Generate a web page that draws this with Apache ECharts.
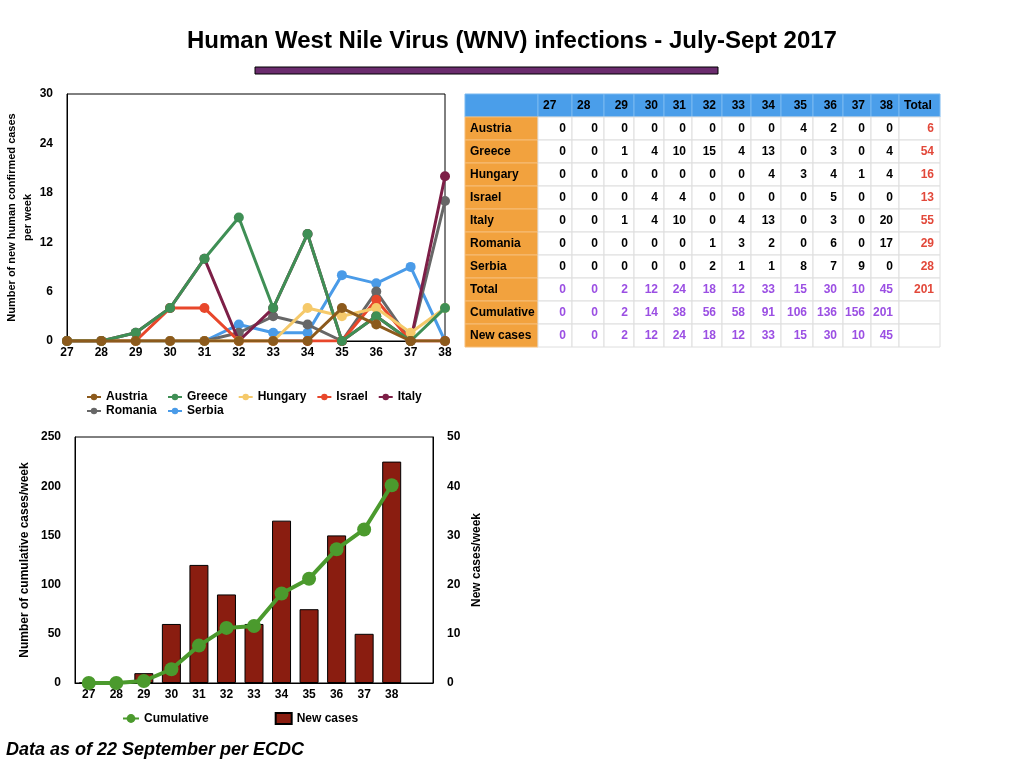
<!DOCTYPE html>
<html>
<head>
<meta charset="utf-8">
<title>Human West Nile Virus (WNV) infections - July-Sept 2017</title>
<script src="https://cdn.jsdelivr.net/npm/echarts@6/dist/echarts.min.js"></script>
<style>
  html, body { margin: 0; padding: 0; background: #fff; }
  #main { width: 1024px; height: 768px; }
</style>
</head>
<body>
<div id="main"></div>
<script>
// data
var weeks = ['27', '28', '29', '30', '31', '32', '33', '34', '35', '36', '37', '38'];
var countries = ['Austria', 'Greece', 'Hungary', 'Israel', 'Italy', 'Romania', 'Serbia'];
var austria = [0, 0, 0, 0, 0, 0, 0, 0, 4, 2, 0, 0];
var greece  = [0, 0, 1, 4, 10, 15, 4, 13, 0, 3, 0, 4];
var hungary = [0, 0, 0, 0, 0, 0, 0, 4, 3, 4, 1, 4];
var israel  = [0, 0, 0, 4, 4, 0, 0, 0, 0, 5, 0, 0];
var italy   = [0, 0, 1, 4, 10, 0, 4, 13, 0, 3, 0, 20];
var romania = [0, 0, 0, 0, 0, 1, 3, 2, 0, 6, 0, 17];
var serbia  = [0, 0, 0, 0, 0, 2, 1, 1, 8, 7, 9, 0];
var countryTotals = [6, 54, 16, 13, 55, 29, 28];
var weekTotals = [0, 0, 2, 12, 24, 18, 12, 33, 15, 30, 10, 45];
var grandTotal = 201;
var cumulative = [0, 0, 2, 14, 38, 56, 58, 91, 106, 136, 156, 201];
var newCases = [0, 0, 2, 12, 24, 18, 12, 33, 15, 30, 10, 45];

var countryData = [austria, greece, hungary, israel, italy, romania, serbia];
var countryColors = ['#8c5a1c', '#3f8f55', '#f5c96a', '#e8472b', '#7d1f47', '#676767', '#4a9be8'];

var FONT = "'Liberation Sans', Arial, Helvetica, sans-serif";
var lbl = { color: '#000', fontWeight: 'bold', fontSize: 12, fontFamily: FONT };

var chart = echarts.init(document.getElementById('main'), null, { renderer: 'canvas' });

// top chart series (first country drawn on top)
var lineSeries = countries.map(function (name, i) {
  return {
    name: name,
    type: 'line',
    xAxisIndex: 0,
    yAxisIndex: 0,
    data: countryData[i],
    symbol: 'circle',
    symbolSize: 10,
    z: 20 - i,
    color: countryColors[i],
    lineStyle: { width: 3, color: countryColors[i] },
    itemStyle: { color: countryColors[i] },
    emphasis: { disabled: true }
  };
});

// table drawn with graphic elements
var colX = [465, 538, 572, 604, 634, 664, 692, 722, 751, 781, 813, 843, 871, 899, 940];
var rowTop = 94, rowH = 23;
var RED = '#e2483a', PURPLE = '#9b4fe3';
var tableEls = [];
function cell(c, r, fill, stroke) {
  tableEls.push({
    type: 'rect',
    shape: { x: colX[c], y: rowTop + r * rowH, width: colX[c + 1] - colX[c], height: rowH },
    style: { fill: fill, stroke: stroke, lineWidth: 1 },
    z: 1
  });
}
function txt(c, r, s, color, align) {
  var x = align === 'left' ? colX[c] + 5 : colX[c + 1] - 6;
  tableEls.push({
    type: 'text',
    x: x,
    y: rowTop + r * rowH + rowH / 2,
    style: { text: String(s), fill: color, font: 'bold 12px ' + FONT, align: align, verticalAlign: 'middle' },
    z: 2
  });
}
var nRows = 11, nCols = colX.length - 1;
for (var r = 0; r < nRows; r++) {
  for (var c = 0; c < nCols; c++) {
    if (r === 0) cell(c, r, '#4a9eea', '#79b8f0');
    else if (c === 0) cell(c, r, '#f2a23e', '#f6bd78');
    else cell(c, r, '#fff', '#dedede');
  }
}
// header
weeks.forEach(function (w, i) {
  txt(i + 1, 0, w, '#000', (i < 2) ? 'left' : 'right');
});
txt(13, 0, 'Total', '#000', 'left');
// country rows
countries.forEach(function (name, ri) {
  txt(0, ri + 1, name, '#000', 'left');
  countryData[ri].forEach(function (v, ci) { txt(ci + 1, ri + 1, v, '#000', 'right'); });
  txt(13, ri + 1, countryTotals[ri], RED, 'right');
});
var extraRows = [['Total', weekTotals], ['Cumulative', cumulative], ['New cases', newCases]];
extraRows.forEach(function (row, k) {
  var r = 8 + k;
  txt(0, r, row[0], '#000', 'left');
  row[1].forEach(function (v, ci) { txt(ci + 1, r, v, PURPLE, 'right'); });
});
txt(13, 8, grandTotal, RED, 'right');

var option = {
  animation: false,
  backgroundColor: '#fff',
  textStyle: { fontFamily: FONT },
  title: {
    text: 'Human West Nile Virus (WNV) infections - July-Sept 2017',
    left: 'center',
    top: 29,
    padding: 0,
    textStyle: { fontSize: 24, fontWeight: 'bold', color: '#000', fontFamily: FONT }
  },
  legend: [
    {
      data: ['Austria', 'Romania'], orient: 'vertical', left: 86, top: 390,
      itemGap: 0, itemWidth: 14, itemHeight: 8, padding: 0,
      textStyle: { color: '#000', fontWeight: 'bold', fontSize: 12, fontFamily: FONT, lineHeight: 14 }
    },
    {
      data: ['Greece', 'Hungary', 'Israel', 'Italy'], left: 167, top: 390,
      itemGap: 10, itemWidth: 14, itemHeight: 8, padding: 0,
      textStyle: { color: '#000', fontWeight: 'bold', fontSize: 12, fontFamily: FONT, lineHeight: 14 }
    },
    {
      data: ['Serbia'], left: 167, top: 404,
      itemWidth: 14, itemHeight: 8, padding: 0,
      textStyle: { color: '#000', fontWeight: 'bold', fontSize: 12, fontFamily: FONT, lineHeight: 14 }
    },
    {
      data: ['Cumulative', { name: 'New cases', icon: 'rect' }], left: 122, top: 712,
      itemGap: 66, itemWidth: 16, itemHeight: 11, padding: 0,
      textStyle: { color: '#000', fontWeight: 'bold', fontSize: 12, fontFamily: FONT }
    }
  ],
  grid: [
    { left: 67, right: 579, top: 94, bottom: 427, show: true, borderColor: '#000', borderWidth: 1, backgroundColor: 'transparent' },
    { left: 75, right: 591, top: 437, bottom: 85, show: true, borderColor: '#000', borderWidth: 1, backgroundColor: 'transparent' }
  ],
  xAxis: [
    {
      type: 'category', gridIndex: 0, data: weeks, boundaryGap: false,
      axisLine: { lineStyle: { color: '#000' } }, axisTick: { show: false },
      axisLabel: Object.assign({ margin: 6 }, lbl)
    },
    {
      type: 'category', gridIndex: 1, data: weeks.concat(['']), boundaryGap: true,
      axisLine: { lineStyle: { color: '#000' } }, axisTick: { show: false },
      axisLabel: Object.assign({ margin: 6, interval: 0 }, lbl)
    }
  ],
  yAxis: [
    {
      type: 'value', gridIndex: 0, min: 0, max: 30, interval: 6,
      name: 'Number of new human confirmed cases\nper week',
      nameLocation: 'middle', nameGap: 31, nameRotate: 90,
      nameTextStyle: { color: '#000', fontWeight: 'bold', fontSize: 11, fontFamily: FONT, lineHeight: 16 },
      axisLine: { show: true, lineStyle: { color: '#000' } }, axisTick: { show: false },
      splitLine: { show: false },
      axisLabel: Object.assign({ margin: 14 }, lbl)
    },
    {
      type: 'value', gridIndex: 1, position: 'left', min: 0, max: 250, interval: 50,
      name: 'Number of cumulative cases/week',
      nameLocation: 'middle', nameGap: 44, nameRotate: 90,
      nameTextStyle: { color: '#000', fontWeight: 'bold', fontSize: 12, fontFamily: FONT },
      axisLine: { show: true, lineStyle: { color: '#000' } }, axisTick: { show: false },
      splitLine: { show: false },
      axisLabel: Object.assign({ margin: 14 }, lbl)
    },
    {
      type: 'value', gridIndex: 1, position: 'right', min: 0, max: 50, interval: 10,
      name: 'New cases/week',
      nameLocation: 'middle', nameGap: 38, nameRotate: 90,
      nameTextStyle: { color: '#000', fontWeight: 'bold', fontSize: 12, fontFamily: FONT },
      axisLine: { show: true, lineStyle: { color: '#000' } }, axisTick: { show: false },
      splitLine: { show: false },
      axisLabel: Object.assign({ margin: 14 }, lbl)
    }
  ],
  series: lineSeries.concat([
    {
      name: 'New cases',
      type: 'bar',
      xAxisIndex: 1,
      yAxisIndex: 2,
      data: newCases,
      barWidth: 19,
      color: '#8a1d10',
      itemStyle: { color: '#8a1d10', borderColor: '#000', borderWidth: 1 },
      emphasis: { disabled: true },
      z: 2
    },
    {
      name: 'Cumulative',
      type: 'line',
      xAxisIndex: 1,
      yAxisIndex: 1,
      data: cumulative,
      symbol: 'circle',
      symbolSize: 14,
      color: '#4b9a2d',
      lineStyle: { width: 4, color: '#4b9a2d' },
      itemStyle: { color: '#4b9a2d' },
      emphasis: { disabled: true },
      z: 5
    }
  ]),
  graphic: [
    {
      type: 'rect',
      shape: { x: 255, y: 67, width: 463, height: 7 },
      style: { fill: '#6b2c6e', stroke: '#000', lineWidth: 1 }
    },
    {
      type: 'text',
      x: 6, y: 750,
      style: {
        text: 'Data as of 22 September per ECDC',
        fill: '#000', font: 'italic bold 18px ' + FONT, verticalAlign: 'middle'
      }
    },
    { type: 'group', children: tableEls }
  ]
};

chart.setOption(option);
</script>
</body>
</html>
